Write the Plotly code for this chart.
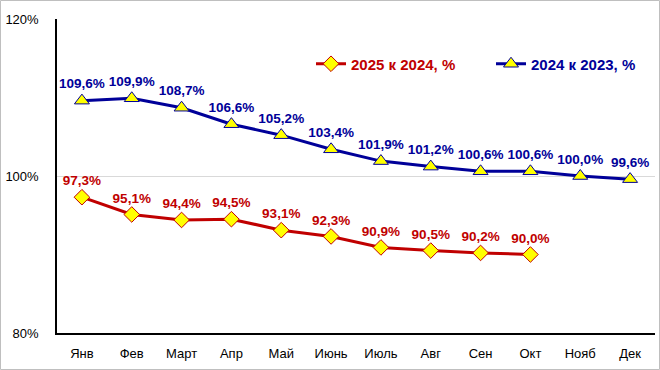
import plotly.graph_objects as go

months = ["Янв", "Фев", "Март", "Апр", "Май", "Июнь", "Июль", "Авг", "Сен", "Окт", "Нояб", "Дек"]
y2025 = [97.3, 95.1, 94.4, 94.5, 93.1, 92.3, 90.9, 90.5, 90.2, 90.0]
y2024 = [109.6, 109.9, 108.7, 106.6, 105.2, 103.4, 101.9, 101.2, 100.6, 100.6, 100.0, 99.6]
ytick_vals = [80, 100, 120]
ytick_text = ["80%", "100%", "120%"]

RED = "#C00000"
BLUE = "#000099"

def fmt(v):
    return f"{v:.1f}".replace(".", ",") + "%"

fig = go.Figure()
fig.add_trace(go.Scatter(
    x=months[:len(y2025)], y=y2025, mode="lines+markers+text",
    name=f"<span style='color:{RED}'><b>2025 к 2024, %</b></span>",
    line=dict(color=RED, width=3),
    marker=dict(symbol="diamond", size=12, color="#FFFF00", line=dict(color=RED, width=1)),
    text=[fmt(v) for v in y2025], textposition="top center",
    textfont=dict(family="Liberation Sans, Arial", size=13.5, color=RED, weight="bold"),
    cliponaxis=False,
))
fig.add_trace(go.Scatter(
    x=months, y=y2024, mode="lines+markers+text",
    name=f"<span style='color:{BLUE}'><b>2024 к 2023, %</b></span>",
    line=dict(color=BLUE, width=3),
    marker=dict(symbol="triangle-up", size=13, color="#FFFF00", line=dict(color=BLUE, width=1)),
    text=[fmt(v) for v in y2024], textposition="top center",
    textfont=dict(family="Liberation Sans, Arial", size=13.5, color=BLUE, weight="bold"),
    cliponaxis=False,
))

L, R, T, B = 57, 5, 19, 37
W, H = 660, 370
pw, ph = W - L - R, H - T - B

fig.update_layout(
    width=W, height=H,
    margin=dict(l=L, r=R, t=T, b=B, autoexpand=False),
    paper_bgcolor="white", plot_bgcolor="white",
    font=dict(family="Liberation Sans, Arial", size=12, color="black"),
    showlegend=True,
    legend=dict(orientation="h", x=(311 - L) / pw, y=(333 - 64) / ph,
                xanchor="left", yanchor="middle",
                font=dict(size=15, family="Liberation Sans, Arial"),
                bgcolor="rgba(0,0,0,0)", itemwidth=30, tracegroupgap=0,
                entrywidth=135, entrywidthmode="pixels"),
    xaxis=dict(type="category", categoryorder="array", categoryarray=months,
               range=[-0.5, 11.5], showgrid=False, showline=True, linecolor="black",
               linewidth=1.5, ticks="", ticklabelstandoff=8, tickfont=dict(size=13),
               automargin=False),
    yaxis=dict(range=[80, 120], tickvals=ytick_vals, ticktext=ytick_text,
               showgrid=True, gridcolor="#D9D9D9", gridwidth=1, zeroline=False,
               showline=True, linecolor="black", linewidth=1.5, ticks="",
               ticklabelstandoff=14, tickfont=dict(size=13), automargin=False),
    shapes=[dict(type="rect", xref="paper", yref="paper",
                 x0=(0.5 - L) / pw, x1=(W - 0.5 - L) / pw,
                 y0=(ph - (H - T - 0.5)) / ph, y1=(ph + T - 0.5) / ph,
                 line=dict(color="#BFBFBF", width=1), fillcolor="rgba(0,0,0,0)")],
)

fig.write_html("out.html", config={"displayModeBar": False},
               post_script="document.body.style.margin='0';document.body.style.overflow='hidden';")
